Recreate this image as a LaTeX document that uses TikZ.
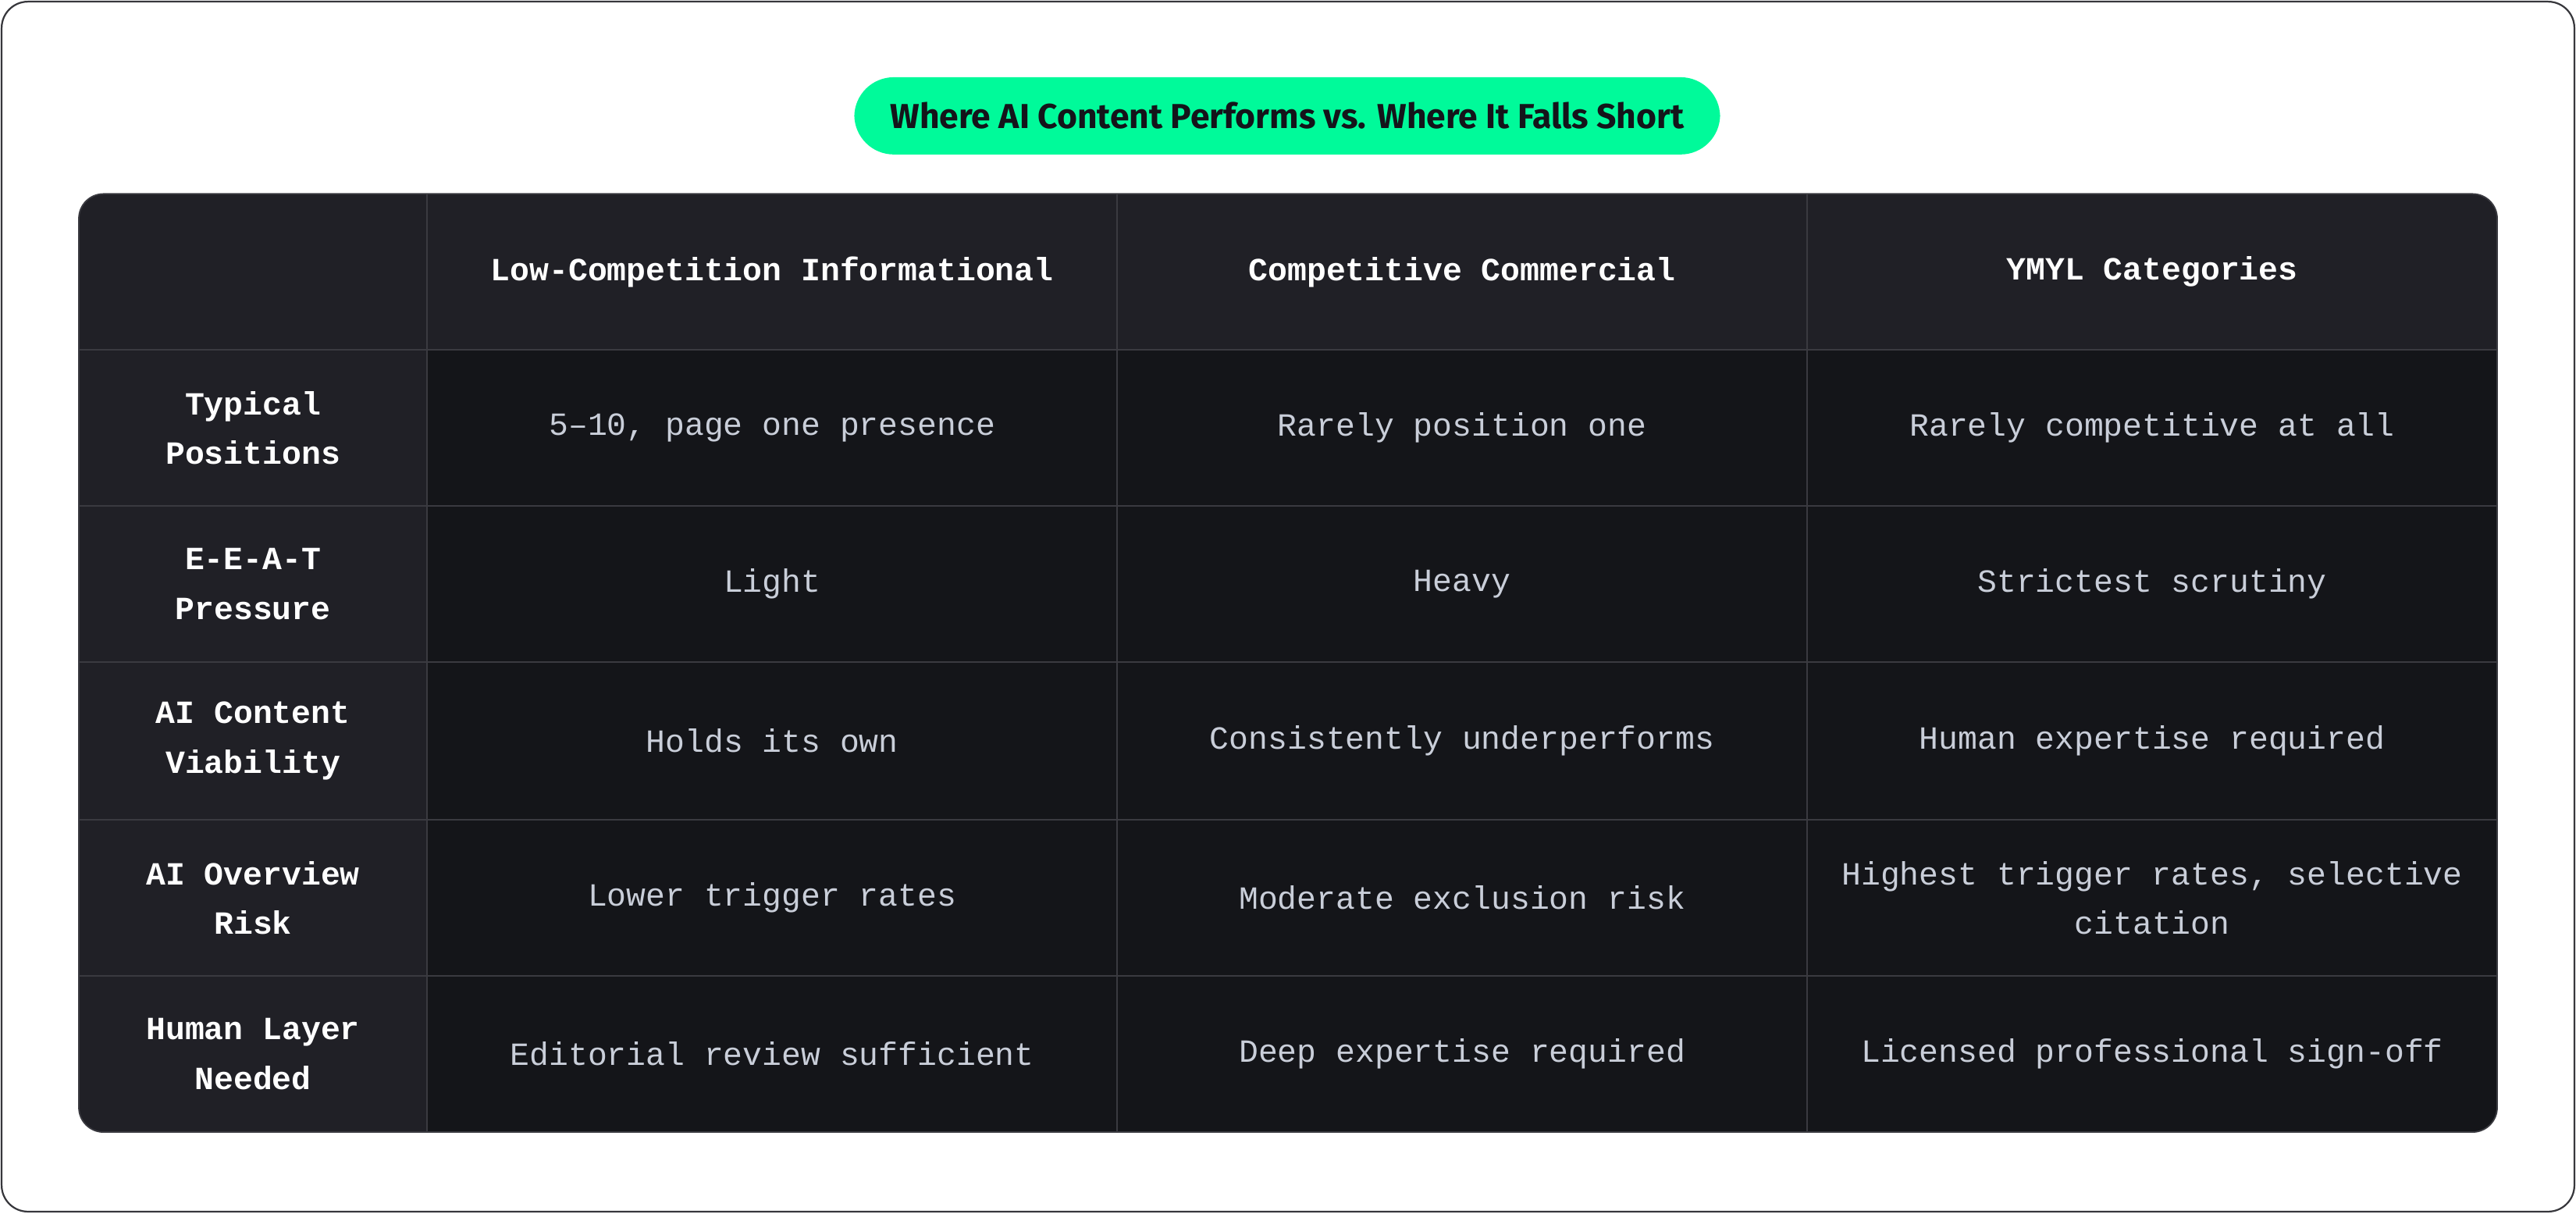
\documentclass[tikz,border=0pt]{standalone}
\usepackage{fontspec}
\setmainfont{Liberation Mono}
\newfontfamily\titlefont{Fira Sans}
\begin{document}
\definecolor{hdr}{HTML}{202026}
\definecolor{bodyc}{HTML}{141519}
\definecolor{gridc}{HTML}{3A3A40}
\definecolor{txt}{HTML}{C9CED9}
\definecolor{pill}{HTML}{00FA9A}
\definecolor{ink}{HTML}{14141A}
\begin{tikzpicture}[x=0.05cm,y=-0.05cm,
  hd/.style={font=\fontsize{28}{43}\selectfont\bfseries, text=white, align=center},
  bd/.style={font=\fontsize{28}{43}\selectfont, text=txt, align=center}]
\useasboundingbox (0,0) rectangle (1568,738.4);
\draw[draw=ink!85, line width=1.5pt, rounded corners=0.8cm] (1,1) rectangle (1567,737.4);
\node[fill=pill, rounded corners=1.2cm, minimum width=26.35cm, minimum height=2.35cm, text=ink,
  font=\titlefont\fontsize{30}{36}\selectfont\bfseries] (title) at (783.5,70.5) {Where AI Content Performs vs. Where It Falls Short};
% table background
\fill[bodyc, rounded corners=0.75cm] (48,118) rectangle (1520,689);
\begin{scope}
\clip[rounded corners=0.75cm] (48,118) rectangle (1520,689);
\fill[hdr] (48,118) rectangle (1520,213);
\fill[hdr] (48,118) rectangle (260,689);
\foreach \y in {213,308,403,499,594} \draw[gridc, line width=1.2pt] (48,\y) -- (1520,\y);
\foreach \x in {260,680,1100} \draw[gridc, line width=1.2pt] (\x,118) -- (\x,689);
\end{scope}
\draw[gridc, line width=1.2pt, rounded corners=0.75cm] (48,118) rectangle (1520,689);
% headers
\node[hd] (h1) at (470,165.5) {Low-Competition Informational};
\node[hd] (h2) at (890,165.5) {Competitive Commercial};
\node[hd] (h3) at (1310,165.5) {YMYL Categories};
% row labels
\node[hd] (r1) at (154,260.5) {Typical\\Positions};
\node[hd] (r2) at (154,355.5) {E-E-A-T\\Pressure};
\node[hd] (r3) at (154,451) {AI Content\\Viability};
\node[hd] (r4) at (154,546.5) {AI Overview\\Risk};
\node[hd] (r5) at (154,641.5) {Human Layer\\Needed};
% cells
\node[bd] (c11) at (470,260.5) {5–10, page one presence};
\node[bd] (c12) at (890,260.5) {Rarely position one};
\node[bd] (c13) at (1310,260.5) {Rarely competitive at all};
\node[bd] (c21) at (470,355.5) {Light};
\node[bd] (c22) at (890,355.5) {Heavy};
\node[bd] (c23) at (1310,355.5) {Strictest scrutiny};
\node[bd] (c31) at (470,451) {Holds its own};
\node[bd] (c32) at (890,451) {Consistently underperforms};
\node[bd] (c33) at (1310,451) {Human expertise required};
\node[bd] (c41) at (470,546.5) {Lower trigger rates};
\node[bd] (c42) at (890,546.5) {Moderate exclusion risk};
\node[bd] (c43) at (1310,546.5) {Highest trigger rates, selective\\citation};
\node[bd] (c51) at (470,641.5) {Editorial review sufficient};
\node[bd] (c52) at (890,641.5) {Deep expertise required};
\node[bd] (c53) at (1310,641.5) {Licensed professional sign-off};
\end{tikzpicture}
\end{document}
